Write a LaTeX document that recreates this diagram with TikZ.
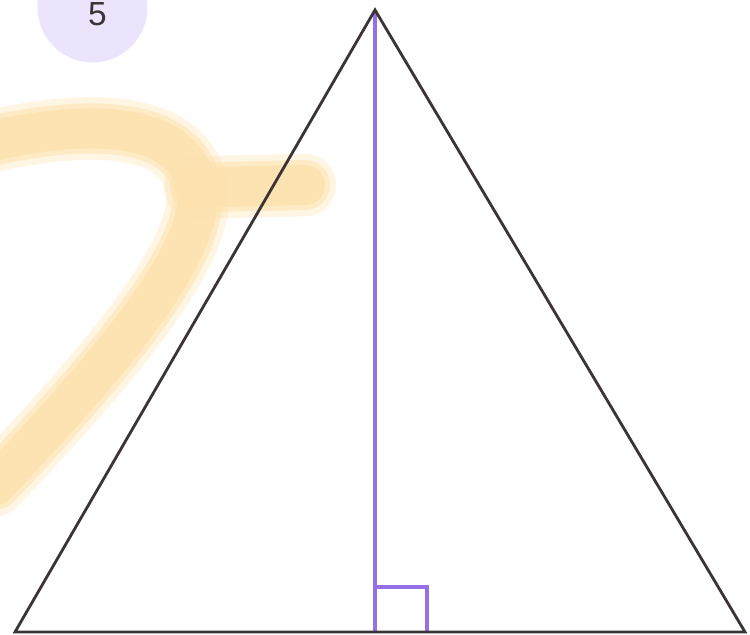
\documentclass[tikz,border=0pt]{standalone}
\usepackage{fontspec}
\setsansfont{Liberation Sans}
\definecolor{tmline}{RGB}{58,52,52}
\definecolor{tmpurple}{RGB}{150,112,232}
\definecolor{tmlilac}{RGB}{236,228,252}
\definecolor{tmwater}{RGB}{253,226,176}

\begin{document}
\begin{tikzpicture}[line width=1.6pt,
  water/.style={tmwater,line cap=round,line join=round}]
  \useasboundingbox (0,0) rectangle (15,12.7);
  % watermark
  \foreach \w/\o in {1.25/0.35,1.0/0.6,0.8/0.9}{
    \draw[water,line width=\w cm,opacity=\o]
      (-0.5,9.8) .. controls (1.5,10.3) and (3.7,10.4) .. (3.95,8.9)
      .. controls (4.1,7.6) and (2.0,5.2) .. (-0.1,3.0);
    \draw[water,line width=\w cm,opacity=\o] (3.9,8.95) -- (6.1,9.0);
  }
  \clip (0,0) rectangle (15,12.7);
  % badge
  \node[circle,fill=tmlilac,minimum size=2.2cm,inner sep=0pt] (N) at (1.85,12.55) {};
  \node[text=tmline,font=\sffamily\fontsize{19}{19}\selectfont] (n) at (1.95,12.42) {5};
  % triangle
  \coordinate (A) at (0.3,0.06);
  \coordinate (B) at (14.9,0.06);
  \coordinate (C) at (7.5,12.5);
  \coordinate (H) at (7.5,0.06);
  \draw[tmpurple,line width=2.1pt] (C) -- (H);
  \draw[tmpurple,line width=2.1pt] (H) ++(0,0.9) -- ++(1.04,0) -- ++(0,-0.9);
  \draw[tmline,line join=miter] (A) -- (C) -- (B) -- cycle;
\end{tikzpicture}
\end{document}
